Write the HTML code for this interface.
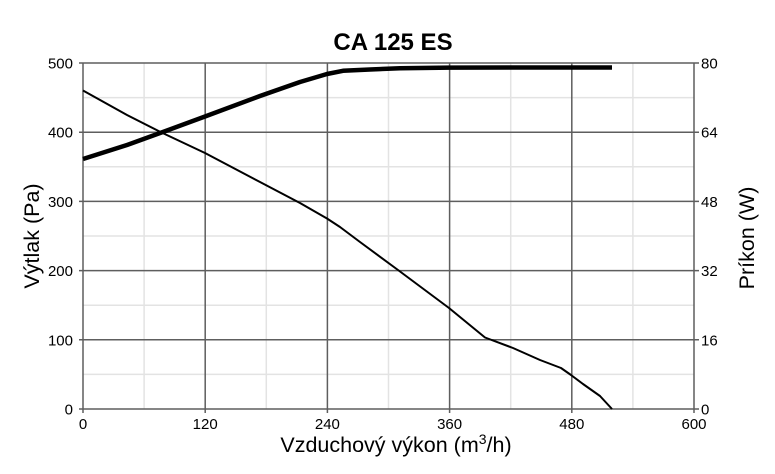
<!DOCTYPE html>
<html>
<head>
<meta charset="utf-8">
<style>
html,body{margin:0;padding:0;background:#fff;}
svg{display:block;}
text{font-family:"Liberation Sans",Arial,sans-serif;fill:#000;}
</style>
</head>
<body>
<svg width="775" height="474" viewBox="0 0 775 474" xmlns="http://www.w3.org/2000/svg">
<rect width="775" height="474" fill="#fff"/>
<!-- minor grid -->
<g stroke="#e3e3e3" stroke-width="1.5">
<line x1="144.1" y1="63" x2="144.1" y2="409"/>
<line x1="266.3" y1="63" x2="266.3" y2="409"/>
<line x1="388.5" y1="63" x2="388.5" y2="409"/>
<line x1="510.7" y1="63" x2="510.7" y2="409"/>
<line x1="632.9" y1="63" x2="632.9" y2="409"/>
<line x1="83" y1="374.4" x2="694" y2="374.4"/>
<line x1="83" y1="305.2" x2="694" y2="305.2"/>
<line x1="83" y1="236" x2="694" y2="236"/>
<line x1="83" y1="166.8" x2="694" y2="166.8"/>
<line x1="83" y1="97.6" x2="694" y2="97.6"/>
</g>
<!-- major grid -->
<g stroke="#5e5e5e" stroke-width="1.5">
<line x1="205.2" y1="63" x2="205.2" y2="413"/>
<line x1="327.4" y1="63" x2="327.4" y2="413"/>
<line x1="449.6" y1="63" x2="449.6" y2="413"/>
<line x1="571.8" y1="63" x2="571.8" y2="413"/>
<line x1="694" y1="63" x2="694" y2="413"/>
<line x1="83" y1="63" x2="83" y2="413"/>
<line x1="79" y1="409" x2="699" y2="409"/>
<line x1="79" y1="339.8" x2="699" y2="339.8"/>
<line x1="79" y1="270.6" x2="699" y2="270.6"/>
<line x1="79" y1="201.4" x2="699" y2="201.4"/>
<line x1="79" y1="132.2" x2="699" y2="132.2"/>
<line x1="79" y1="63" x2="699" y2="63"/>
</g>
<!-- power curve (thick) -->
<polyline fill="none" stroke="#000" stroke-width="4.5" stroke-linejoin="round" stroke-linecap="butt"
points="83,159 127,145 161.5,132.5 205,116.5 260,96 300,82 327,74 343,70.8 370,69.5 400,68.2 449,67.6 520,67.5 612,67.5"/>
<!-- pressure curve (thin) -->
<polyline fill="none" stroke="#000" stroke-width="2" stroke-linejoin="round"
points="83,90.5 127,115 161.5,132.5 205,153 260,182 300,203 327,218.5 340,227 360,242 398,270 449,308 485,337.5 513,348 540,360 561,368 571,375 583,384 600,396 612,409"/>
<!-- title -->
<text x="393" y="50" font-size="24" font-weight="bold" text-anchor="middle">CA 125 ES</text>
<!-- left tick labels -->
<g font-size="15" text-anchor="end">
<text x="73" y="68.5">500</text>
<text x="73" y="137.7">400</text>
<text x="73" y="206.9">300</text>
<text x="73" y="276.1">200</text>
<text x="73" y="345.3">100</text>
<text x="73" y="414.5">0</text>
</g>
<!-- right tick labels -->
<g font-size="15" text-anchor="start">
<text x="701" y="68.5">80</text>
<text x="701" y="137.7">64</text>
<text x="701" y="206.9">48</text>
<text x="701" y="276.1">32</text>
<text x="701" y="345.3">16</text>
<text x="701" y="414.5">0</text>
</g>
<!-- bottom tick labels -->
<g font-size="15" text-anchor="middle">
<text x="83" y="429">0</text>
<text x="205.2" y="429">120</text>
<text x="327.4" y="429">240</text>
<text x="449.6" y="429">360</text>
<text x="571.8" y="429">480</text>
<text x="694" y="429">600</text>
</g>
<!-- axis titles -->
<text x="396" y="452" font-size="21.5" text-anchor="middle">Vzduchový výkon (m<tspan font-size="14" dy="-8">3</tspan><tspan dy="8">/h)</tspan></text>
<text transform="translate(39,236) rotate(-90)" font-size="21.5" text-anchor="middle">Výtlak (Pa)</text>
<text transform="translate(754,238) rotate(-90)" font-size="21.5" text-anchor="middle">Príkon (W)</text>
</svg>
</body>
</html>
